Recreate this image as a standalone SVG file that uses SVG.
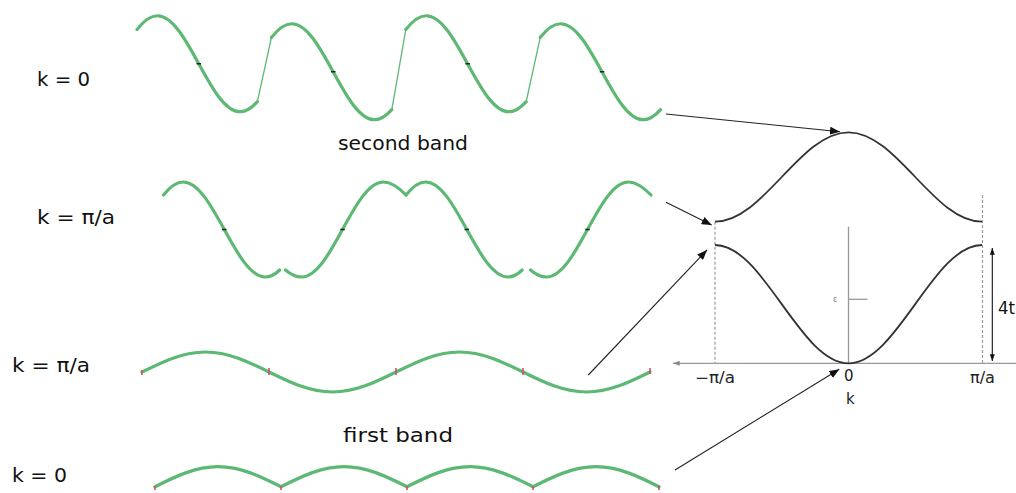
<svg xmlns="http://www.w3.org/2000/svg" width="1016" height="493" viewBox="0 0 1016 493">
<style>
.lbl{font-family:"DejaVu Sans","Liberation Sans",sans-serif;font-size:20px;fill:#111}
.axl{font-family:"DejaVu Sans","Liberation Sans",sans-serif;font-size:15px;fill:#222}
.wave{fill:none;stroke:#5cb873;stroke-width:3.2;stroke-linecap:round;stroke-linejoin:round}
.jump{fill:none;stroke:#5cb873;stroke-width:1.3}
.tick{stroke:#222;stroke-width:1.6}
.rtick{stroke:#d0506a;stroke-width:1.6}
.band{fill:none;stroke:#333;stroke-width:1.8}
.dash{stroke:#999;stroke-width:1.2;stroke-dasharray:3 2}
.axis{stroke:#999;stroke-width:1.3}
.conn{stroke:#222;stroke-width:1.1;fill:none}
</style>
<defs>
<marker id="ah" viewBox="0 0 10 8" refX="10" refY="4" markerWidth="10" markerHeight="8" markerUnits="userSpaceOnUse" orient="auto">
<path d="M0,0 L10,4 L0,8 z" fill="#111"/>
</marker>
<marker id="sah" viewBox="0 0 8 6" refX="8" refY="3" markerWidth="7" markerHeight="5" markerUnits="userSpaceOnUse" orient="auto-start-reverse">
<path d="M0,0 L8,3 L0,6 z" fill="#111"/>
</marker>
<marker id="gah" viewBox="0 0 8 6" refX="8" refY="3" markerWidth="7" markerHeight="5" markerUnits="userSpaceOnUse" orient="auto-start-reverse">
<path d="M0,0 L8,3 L0,6 z" fill="#888"/>
</marker>
<path id="segTop" d="M137,29.6 C143.8,20.8 150.7,15.75 157.5,15.75 C187.5,15.75 210,111.75 240,111.75 C245.8,111.75 251.6,108.1 257.4,101.6"/>
<path id="pieceA" d="M163.5,195 C170.1,186.7 176.7,182 183.3,182 C213.1,182 235.5,277 265.3,277 C270.1,277 274.9,274.6 279.7,270"/>
<path id="pieceB" d="M285.5,270 C290.9,274.6 296.3,277 301.7,277 C331.4,277 353.6,182 383.3,182 C390.5,182 398.2,187 406,195"/>
</defs>

<g id="labels">
<text class="lbl" x="37" y="86" textLength="53" lengthAdjust="spacingAndGlyphs">k = 0</text>
<text class="lbl" x="37" y="224" textLength="78" lengthAdjust="spacingAndGlyphs">k = π/a</text>
<text class="lbl" x="12" y="372" textLength="78" lengthAdjust="spacingAndGlyphs">k = π/a</text>
<text class="lbl" x="12" y="482" textLength="55" lengthAdjust="spacingAndGlyphs">k = 0</text>
<text class="lbl" x="338" y="150" textLength="130" lengthAdjust="spacingAndGlyphs">second band</text>
<text class="lbl" x="343" y="442" textLength="110" lengthAdjust="spacingAndGlyphs">first band</text>
</g>

<g id="wave-second-k0">
<use href="#segTop" class="wave"/>
<use href="#segTop" class="wave" transform="translate(134.4,8)"/>
<use href="#segTop" class="wave" transform="translate(268.8,0)"/>
<use href="#segTop" class="wave" transform="translate(403.2,8)"/>
<path class="jump" d="M257.4,101.6 L271.4,37.6 M391.8,109.6 L405.8,29.6 M526.2,101.6 L540.2,37.6"/>
<path class="tick" d="M196.5,63.75 h4.5 M331,71.75 h4.5 M465.4,63.75 h4.5 M599.8,71.75 h4.5"/>
</g>

<g id="wave-second-kpi">
<use href="#pieceA" class="wave"/>
<use href="#pieceB" class="wave"/>
<use href="#pieceA" class="wave" transform="translate(242.5,0)"/>
<use href="#pieceB" class="wave" transform="translate(245,0)"/>
<path class="tick" d="M222,229.5 h4.5 M340.3,229.5 h4.5 M464.5,229.5 h4.5 M585.3,229.5 h4.5"/>
</g>

<g id="wave-first-kpi">
<path class="wave" d="M142,372 C162.7,361.76 182.5,352 205.5,352 C228.5,352 248.3,361.76 269,372 C289.7,382.24 309.5,392 332.5,392 C355.5,392 375.3,382.24 396,372 C416.7,361.76 436.5,352 459.5,352 C482.5,352 502.3,361.76 523,372 C543.7,382.24 563.5,392 586.5,392 C609.5,392 629.3,382.24 650,372"/>
<path class="rtick" d="M142,370 v5 M269,368 v7 M396,368 v7 M523,368 v7 M650,368 v6"/>
</g>

<g id="wave-first-k0">
<path class="wave" d="M155,486.7 C175.5,476.5 195.2,466.7 218,466.7 C240.8,466.7 260.5,476.5 281,486.7 C301.5,476.5 321.2,466.7 344,466.7 C366.8,466.7 386.5,476.5 407,486.7 C427.5,476.5 447.2,466.7 470,466.7 C492.8,466.7 512.5,476.5 533,486.7 C553.5,476.5 573.2,466.7 596,466.7 C618.8,466.7 638.5,476.5 659,486.7"/>
<path class="rtick" d="M155,486 v4 M281,486 v4 M407,486 v4 M533,486 v4 M659,486 v4"/>
</g>

<g id="band-graph">
<line class="axis" x1="1016" y1="363.3" x2="673" y2="363.3" marker-end="url(#gah)"/>
<line class="axis" x1="848.5" y1="226.7" x2="848.5" y2="363.3"/>
<line class="axis" x1="848.5" y1="299.3" x2="867.5" y2="299.3"/>
<text x="833" y="302" font-family="DejaVu Sans, sans-serif" font-size="8" fill="#888">ε</text>
<line class="dash" x1="715" y1="221.7" x2="715" y2="363.3"/>
<line class="dash" x1="982.5" y1="195" x2="982.5" y2="363.3"/>
<path class="band" d="M715,221.7 C763.5,221.7 800,132.3 848.5,132.3 C897,132.3 933.5,221.7 982,221.7"/>
<path class="band" d="M715,245 C763.5,245 800,363.3 848.5,363.3 C897,363.3 933.5,245 982,245"/>
<line x1="992.3" y1="248" x2="992.3" y2="361" stroke="#111" stroke-width="1.1" marker-start="url(#sah)" marker-end="url(#sah)"/>
<text class="lbl" x="998" y="314" font-size="17" textLength="17" lengthAdjust="spacingAndGlyphs" style="font-size:17px">4t</text>
<text class="axl" x="695" y="383" textLength="40" lengthAdjust="spacingAndGlyphs">−π/a</text>
<text class="axl" x="844" y="381">0</text>
<text class="axl" x="970" y="383" textLength="25" lengthAdjust="spacingAndGlyphs">π/a</text>
<text class="axl" x="846" y="404">k</text>
</g>

<g id="connectors">
<line class="conn" x1="666" y1="114" x2="840" y2="131.7" marker-end="url(#ah)"/>
<line class="conn" x1="666" y1="202.3" x2="711.7" y2="225" marker-end="url(#ah)"/>
<line class="conn" x1="588.3" y1="375" x2="707" y2="250" marker-end="url(#ah)"/>
<line class="conn" x1="675" y1="470" x2="839.3" y2="369.3" marker-end="url(#ah)"/>
</g>
</svg>
